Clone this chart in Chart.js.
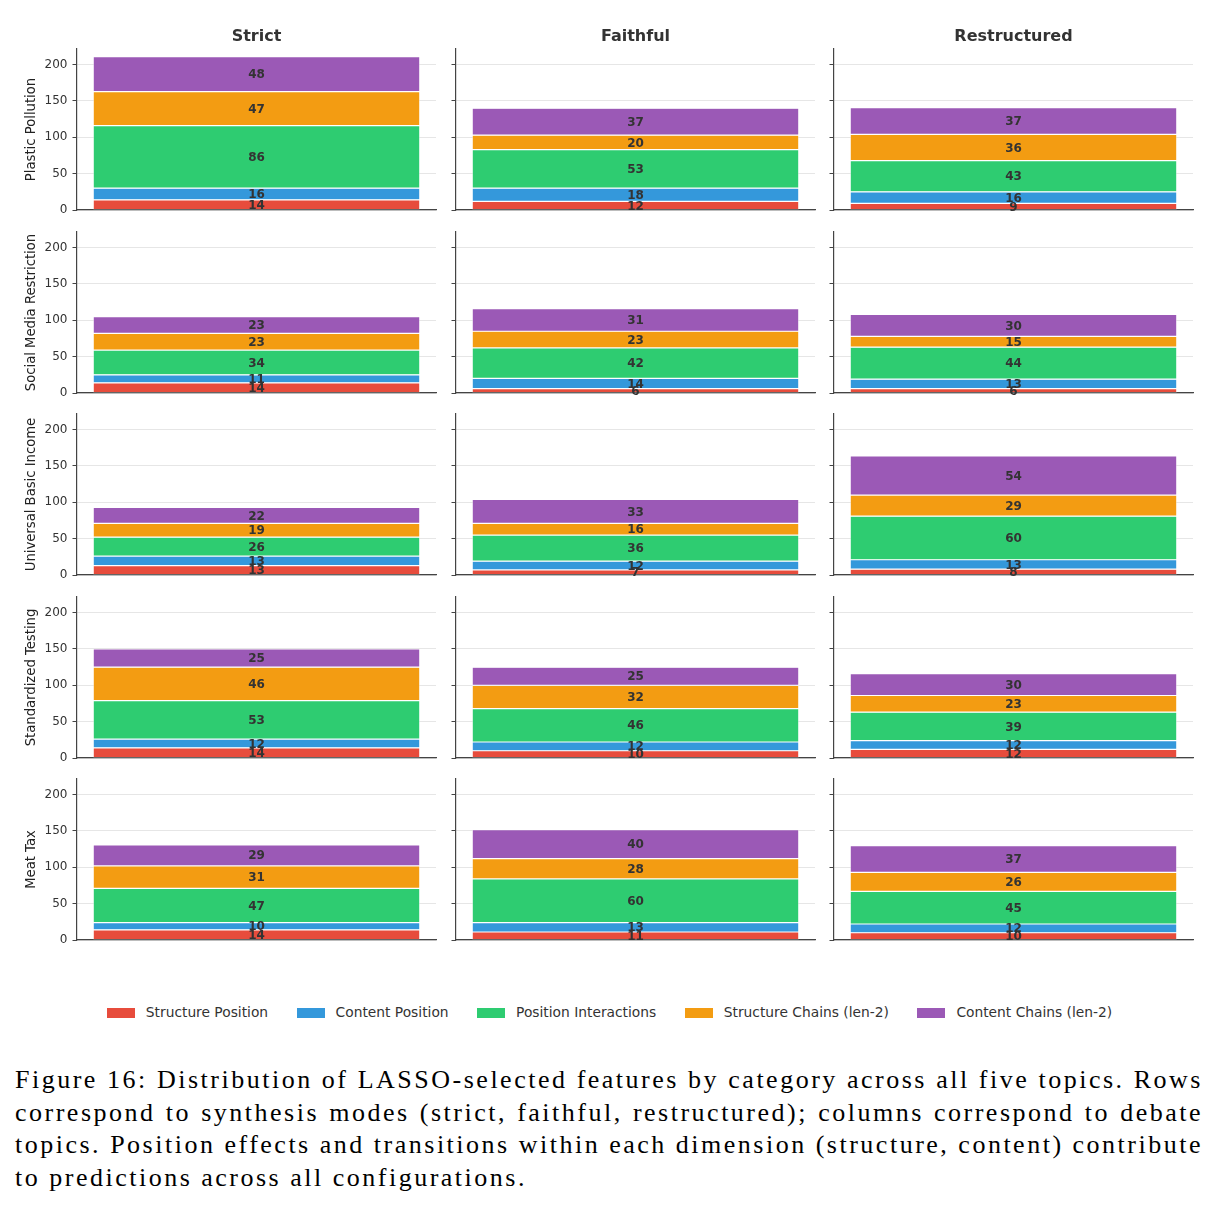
<!DOCTYPE html>
<html>
<head>
<meta charset="utf-8">
<script src="https://cdn.jsdelivr.net/npm/chart.js@4.4.1/dist/chart.umd.min.js"></script>
<style>
  html, body { margin:0; padding:0; background:#fff; }
  body { width:1219px; height:1211px; position:relative; overflow:hidden; font-family:"DejaVu Sans", sans-serif; }
  canvas.panel { position:absolute; }
  #legend { position:absolute; left:0; width:1219px; top:1004px; display:flex; justify-content:center; gap:28.5px; font-size:13.8px; color:#333; line-height:17px; }
  #legend .item { display:flex; align-items:center; white-space:nowrap; }
  #legend .sw { width:28px; height:10px; margin-right:11px; }
  #caption { position:absolute; left:15px; top:1064px; width:1188px; font-family:"Liberation Serif", serif; font-size:26px; line-height:32.5px; color:#000; letter-spacing:2.5px; }
  #caption .ln { white-space:nowrap; display:block; }
  #caption .ln span { display:inline-block; white-space:nowrap; }
</style>
</head>
<body>
<div id="legend"></div>
<div id="caption">
  <div class="ln j"><span>Figure 16: Distribution of LASSO-selected features by category across all five topics. Rows</span></div>
  <div class="ln j"><span>correspond to synthesis modes (strict, faithful, restructured); columns correspond to debate</span></div>
  <div class="ln j"><span>topics. Position effects and transitions within each dimension (structure, content) contribute</span></div>
  <div class="ln"><span>to predictions across all configurations.</span></div>
</div>
<script>
// ---------------- DATA ----------------
const topics = ['Plastic Pollution', 'Social Media Restriction', 'Universal Basic Income', 'Standardized Testing', 'Meat Tax'];
const modes = ['Strict', 'Faithful', 'Restructured'];
const categories = ['Structure Position', 'Content Position', 'Position Interactions', 'Structure Chains (len-2)', 'Content Chains (len-2)'];
// each array: rows = topics, columns = modes (Strict, Faithful, Restructured)
const structurePosition    = [[14, 12, 9],  [14, 6, 6],   [13, 7, 8],   [14, 10, 12], [14, 11, 10]];
const contentPosition      = [[16, 18, 16], [11, 14, 13], [13, 12, 13], [12, 12, 12], [10, 13, 12]];
const positionInteractions = [[86, 53, 43], [34, 42, 44], [26, 36, 60], [53, 46, 39], [47, 60, 45]];
const structureChains      = [[47, 20, 36], [23, 23, 15], [19, 16, 29], [46, 32, 23], [31, 28, 26]];
const contentChains        = [[48, 37, 37], [23, 31, 30], [22, 33, 54], [25, 25, 30], [29, 40, 37]];
const yTickValues = [0, 50, 100, 150, 200];
const yMax = 221.55;

// ---------------- STYLE / LAYOUT ----------------
const colors = ['#e74c3c', '#3498db', '#2ecc71', '#f39c12', '#9b59b6'];
const seriesList = [structurePosition, contentPosition, positionInteractions, structureChains, contentChains];
const colAxisX = [77, 456, 834];
const rowZeroY = [210, 392.5, 575, 757.5, 940];
const padLeft = 70, padTop = 30, padRight = 5, padBottom = 5;
const plotW = 359, plotH = 161;

Chart.defaults.font.family = '"DejaVu Sans", sans-serif';
Chart.defaults.color = '#333';

const segLabels = {
  id: 'segLabels',
  afterDatasetsDraw(chart) {
    const ctx = chart.ctx;
    ctx.save();
    ctx.font = 'bold 12px "DejaVu Sans"';
    ctx.fillStyle = '#333';
    ctx.textAlign = 'center';
    ctx.textBaseline = 'middle';
    chart.data.datasets.forEach((ds, i) => {
      const meta = chart.getDatasetMeta(i);
      meta.data.forEach((bar, j) => {
        ctx.fillText(String(ds.data[j]), bar.x, (bar.y + bar.base) / 2 + 1);
      });
    });
    ctx.restore();
  }
};
const panelTitle = {
  id: 'panelTitle',
  afterDraw(chart, args, opts) {
    if (!opts || !opts.text) return;
    const ctx = chart.ctx, a = chart.chartArea;
    ctx.save();
    ctx.font = 'bold 16px "DejaVu Sans"';
    ctx.fillStyle = '#333';
    ctx.textAlign = 'center';
    ctx.textBaseline = 'middle';
    ctx.fillText(opts.text, (a.left + a.right) / 2, a.top - 12.5);
    ctx.restore();
  }
};

topics.forEach((topic, r) => {
  modes.forEach((mode, c) => {
    const cv = document.createElement('canvas');
    cv.className = 'panel';
    const W = padLeft + plotW + padRight, H = padTop + plotH + padBottom;
    cv.width = W; cv.height = H;
    cv.style.width = W + 'px'; cv.style.height = H + 'px';
    cv.style.left = (colAxisX[c] - padLeft) + 'px';
    cv.style.top = Math.round(rowZeroY[r] - plotH - padTop) + 'px';
    document.body.appendChild(cv);
    new Chart(cv, {
      type: 'bar',
      data: {
        labels: [''],
        datasets: categories.map((cat, k) => ({
          label: cat,
          data: [seriesList[k][r][c]],
          backgroundColor: colors[k],
          borderColor: 'rgba(255,255,255,0.7)',
          borderWidth: 0.6,
          borderSkipped: false,
          barPercentage: 0.91,
          categoryPercentage: 1.0
        }))
      },
      options: {
        responsive: false,
        animation: false,
        devicePixelRatio: 1,
        layout: { padding: { left: 0, top: padTop, right: padRight, bottom: padBottom } },
        plugins: {
          legend: { display: false },
          tooltip: { enabled: false },
          panelTitle: { text: r === 0 ? mode : '' }
        },
        scales: {
          x: {
            stacked: true,
            z: 1,
            ticks: { display: false },
            grid: { display: false, drawTicks: false },
            border: { display: true, color: '#444', width: 1.2 },
            afterFit: s => { s.height = 0; s.paddingLeft = 0; s.paddingRight = 0; }
          },
          y: {
            stacked: true,
            min: 0,
            max: yMax,
            afterBuildTicks: s => { s.ticks = yTickValues.map(v => ({ value: v })); },
            afterFit: s => { s.width = padLeft; s.paddingTop = 0; s.paddingBottom = 0; },
            ticks: { display: c === 0, font: { size: 12 }, color: '#333', padding: 5 },
            grid: { color: '#e6e6e6', lineWidth: 1, drawTicks: true, tickLength: 4.5, tickColor: '#444', tickWidth: 1 },
            border: { display: true, color: '#444', width: 1.2 },
            title: { display: c === 0, text: topic, font: { size: 13.2 }, color: '#222', padding: { top: 16.5, bottom: 0 } }
          }
        }
      },
      plugins: [segLabels, panelTitle]
    });
  });
});

// legend
const lg = document.getElementById('legend');
categories.forEach((cat, k) => {
  const it = document.createElement('div');
  it.className = 'item';
  const sw = document.createElement('span');
  sw.className = 'sw';
  sw.style.background = colors[k];
  const tx = document.createElement('span');
  tx.textContent = cat;
  it.appendChild(sw); it.appendChild(tx);
  lg.appendChild(it);
});

// justify caption lines by word spacing
document.querySelectorAll('#caption .ln.j span').forEach(sp => {
  const target = 1188;
  const w = sp.getBoundingClientRect().width;
  const spaces = (sp.textContent.match(/ /g) || []).length;
  if (spaces > 0) sp.style.wordSpacing = ((target - w) / spaces) + 'px';
});
</script>
</body>
</html>
